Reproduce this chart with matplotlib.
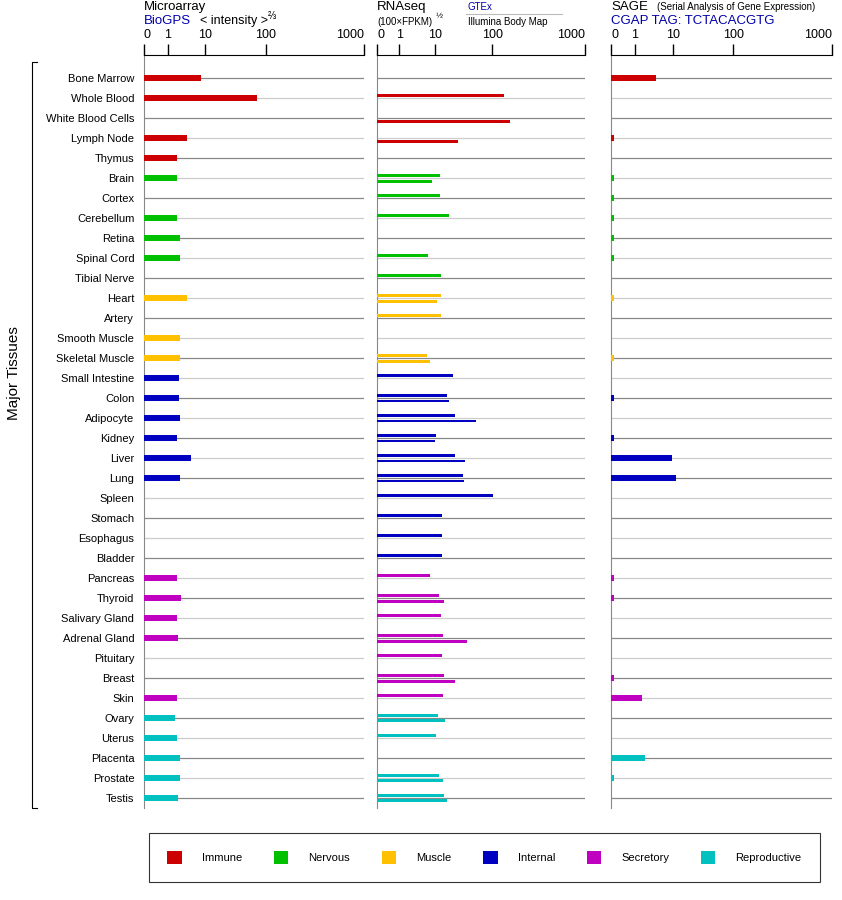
import numpy as np
import matplotlib
matplotlib.use("Agg")
import matplotlib.pyplot as plt
from matplotlib.patches import Patch

plt.rcParams["font.family"] = "Liberation Sans"
nan = np.nan

tissues = ["Bone Marrow", "Whole Blood", "White Blood Cells", "Lymph Node", "Thymus",
           "Brain", "Cortex", "Cerebellum", "Retina", "Spinal Cord", "Tibial Nerve",
           "Heart", "Artery", "Smooth Muscle", "Skeletal Muscle",
           "Small Intestine", "Colon", "Adipocyte", "Kidney", "Liver", "Lung", "Spleen",
           "Stomach", "Esophagus", "Bladder",
           "Pancreas", "Thyroid", "Salivary Gland", "Adrenal Gland", "Pituitary", "Breast", "Skin",
           "Ovary", "Uterus", "Placenta", "Prostate", "Testis"]
groups = ["Immune"] * 5 + ["Nervous"] * 6 + ["Muscle"] * 4 + ["Internal"] * 10 + ["Secretory"] * 7 + ["Reproductive"] * 5
group_names = ["Immune", "Nervous", "Muscle", "Internal", "Secretory", "Reproductive"]
group_colors = {"Immune": "#cc0000", "Nervous": "#00c000", "Muscle": "#ffc000",
                "Internal": "#0000c0", "Secretory": "#c000c0", "Reproductive": "#00c0c0"}

microarray = [8, 72, nan, 3.8, 2.1,
              2.1, nan, 2.1, 2.5, 2.5, nan,
              3.8, nan, 2.5, 2.5,
              2.3, 2.3, 2.5, 2.1, 4.7, 2.5, nan, nan, nan, nan,
              2.1, 2.7, 2.0, 2.2, nan, nan, 2.1,
              1.8, 2.1, 2.5, 2.5, 2.2]
gtex = [nan, 134, nan, nan, nan,
        12.4, 12.4, 18, nan, 6.9, 12.9,
        12.9, 12.9, nan, 6.5,
        21, 16.5, 23, 10.4, 23, 32, 101, 13.4, 13.4, 13.4,
        7.6, 11.8, 12.9, 13.9, 13.4, 14.6, 13.9,
        11.4, 10.4, nan, 11.8, 14.6]
illumina = [nan, nan, 156, 26, nan,
            8.5, nan, nan, nan, nan, nan,
            10.9, nan, nan, 7.6,
            nan, 18, 53, 10, 34, 33, nan, nan, nan, nan,
            nan, 14.6, nan, 37, nan, 23, nan,
            15.2, nan, nan, 13.9, 16.5]
sage = [4.2, nan, nan, 0.1, nan,
        0.1, 0.1, 0.1, 0.1, 0.1, nan,
        0.1, nan, nan, 0.1,
        nan, 0.1, nan, 0.1, 9.7, 11.3, nan, nan, nan, nan,
        0.1, 0.1, nan, nan, nan, 0.1, 1.8,
        nan, nan, 2.2, 0.1, nan]
tick_values = [0, 1, 10, 100, 1000]
tick_labels = ["0", "1", "10", "100", "1000"]

_L = np.log10(np.array(tick_values, float) + 1)
_F = np.array([0, 0.107, 0.279, 0.554, 1.0])

def fwd(v):
    v = np.asarray(v, float)
    return np.interp(np.log10(np.clip(v, 0, None) + 1), _L, _F)

def inv(f):
    return 10 ** np.interp(np.asarray(f, float), _F, _L) - 1

W, H = 842, 900
fig = plt.figure(figsize=(W / 100, H / 100), dpi=100)

def fx(x): return x / W
def fy(y): return 1 - y / H

n = len(tissues)
rows = np.arange(n)
colors = [group_colors[g] for g in groups]
top_px, bot_px = 55, 808
y0 = (top_px - 78) / 20
y1 = (bot_px - 78) / 20

def make_panel(x_left, x_right, show_labels):
    ax = fig.add_axes([fx(x_left), fy(bot_px), fx(x_right - x_left), (bot_px - top_px) / H])
    ax.set_xscale("function", functions=(fwd, inv))
    ax.set_xlim(0, 1000)
    ax.set_ylim(y1, y0)
    for s in ["right", "bottom"]:
        ax.spines[s].set_visible(False)
    ax.spines["top"].set_color("black")
    ax.spines["left"].set_color("#888888")
    ax.xaxis.tick_top()
    ax.set_xticks(tick_values)
    ax.set_xticklabels(tick_labels, fontsize=9)
    ax.get_xticklabels()[-1].set_horizontalalignment("right")
    ax.get_xticklabels()[0].set_horizontalalignment("left")
    ax.xaxis.set_minor_locator(matplotlib.ticker.NullLocator())
    ax.tick_params(axis="x", direction="out", length=8, width=1, pad=2)
    ax.set_yticks(rows)
    if show_labels:
        ax.set_yticklabels(tissues, fontsize=8)
        ax.tick_params(axis="y", length=0, pad=7)
    else:
        ax.set_yticklabels([])
        ax.tick_params(axis="y", length=0)
    for i in rows:
        ax.axhline(i, color="#888888" if i % 2 == 0 else "#cccccc", lw=0.9, zorder=1)
    return ax

ax1 = make_panel(144, 364, True)
ax1.barh(rows, microarray, height=0.28, color=colors, zorder=3)
ax2 = make_panel(377, 585, False)
ax2.barh(rows - 0.15, gtex, height=0.15, color=colors, zorder=3)
ax2.barh(rows + 0.15, illumina, height=0.15, color=colors, zorder=3)
ax3 = make_panel(611, 832, False)
ax3.barh(rows, sage, height=0.28, color=colors, zorder=3)

blue = "#0000aa"
fig.text(fx(144), fy(7), "Microarray", fontsize=9.5, va="center")
fig.text(fx(144), fy(21), "BioGPS", fontsize=9.5, color=blue, va="center")
fig.text(fx(200), fy(21), "< intensity >", fontsize=9, va="center")
fig.text(fx(268), fy(16), "⅔", fontsize=7, va="center")
fig.text(fx(377), fy(7), "RNAseq", fontsize=9.5, va="center")
fig.text(fx(377), fy(22), "(100×FPKM)", fontsize=7, va="center")
fig.text(fx(436), fy(17), "½", fontsize=6, va="center")
fig.text(fx(468), fy(7), "GTEx", fontsize=7, color=blue, va="center")
fig.add_artist(plt.Line2D([fx(466), fx(562)], [fy(14), fy(14)], color="#bbbbbb", lw=0.8))
fig.text(fx(468), fy(22), "Illumina Body Map", fontsize=7, va="center")
fig.text(fx(611), fy(7), "SAGE", fontsize=9.5, va="center")
fig.text(fx(657), fy(7), "(Serial Analysis of Gene Expression)", fontsize=7, va="center")
fig.text(fx(611), fy(21), "CGAP TAG: TCTACACGTG", fontsize=9.5, color=blue, va="center")

# bracket
fig.add_artist(plt.Line2D([fx(37), fx(32), fx(32), fx(37)], [fy(62), fy(62), fy(808), fy(808)], color="black", lw=0.8))
fig.text(fx(14), fy(373), "Major Tissues", rotation=90, fontsize=11, ha="center", va="center")

handles = [Patch(facecolor=group_colors[g], edgecolor="none", label=g) for g in group_names]
leg = fig.legend(handles=handles, ncol=6, loc="center",
                 bbox_to_anchor=(fx(143), fy(885), fx(826) - fx(143), (885 - 830) / H),
                 mode="expand", fontsize=8, frameon=True, fancybox=False,
                 handlelength=1.3, handleheight=1.3, handletextpad=1.8, borderpad=1.7)
leg.get_frame().set_edgecolor("black")
leg.get_frame().set_linewidth(0.8)

fig.savefig("out.png", dpi=100)
